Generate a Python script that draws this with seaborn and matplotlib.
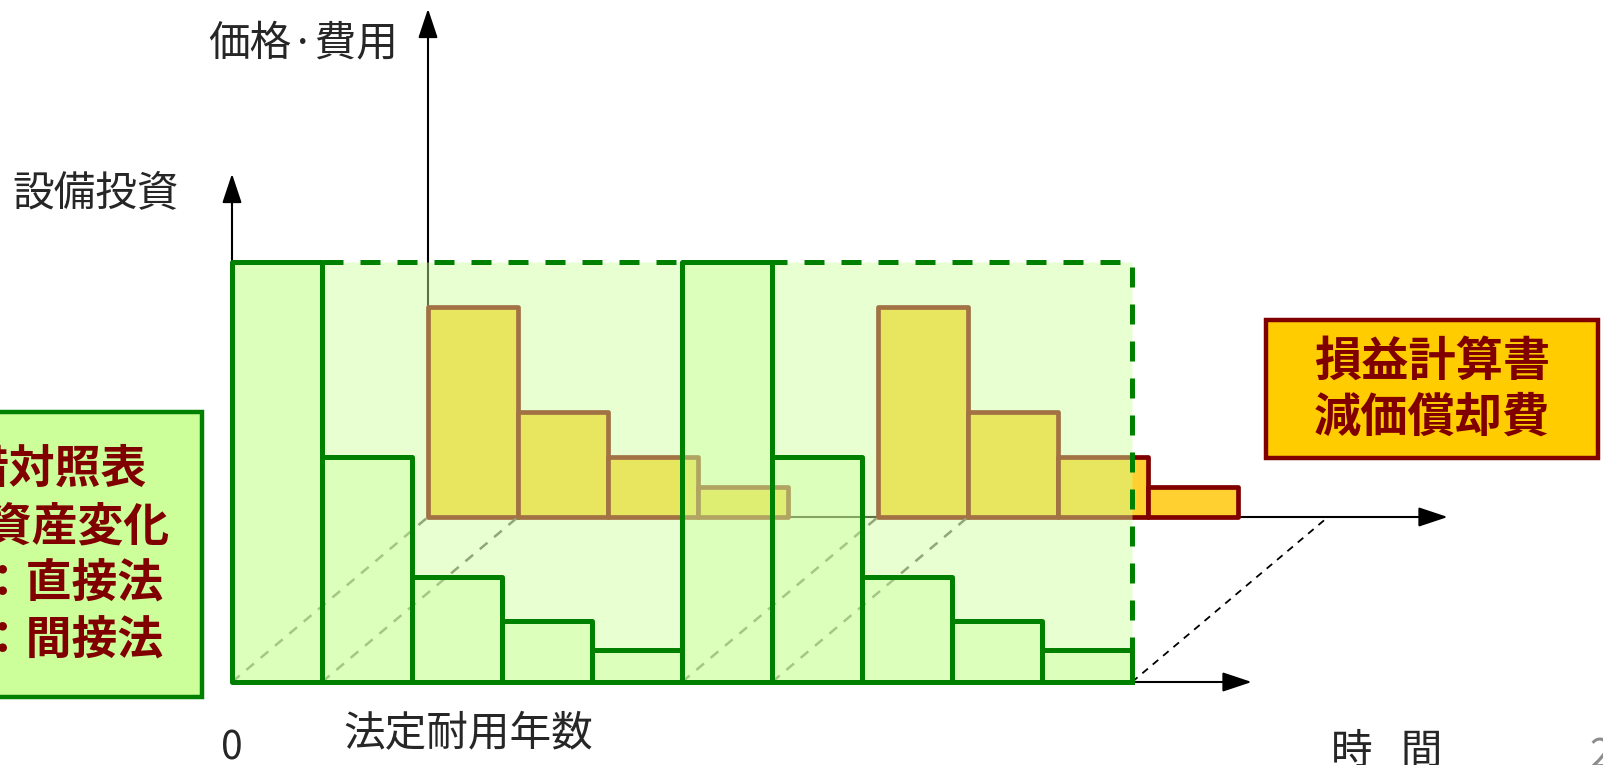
"""
Depreciation sketch: asset value (front plane) vs yearly expense (back plane).
"""
import numpy as np
import pandas as pd
import matplotlib
matplotlib.use("Agg")
import matplotlib.pyplot as plt
import seaborn as sns
from matplotlib.patches import Rectangle

# --- data (% of the investment) ---
front_year = [1, 2, 3, 4, 5, 6, 7, 8, 9, 10]
front_value = [100, 53.6, 25.0, 14.5, 7.6, 100, 53.6, 25.0, 14.5, 7.6]
back_year = [1, 2, 3, 4, 6, 7, 8, 9]
back_value = [50.0, 25.0, 14.3, 7.1, 50.0, 25.0, 14.3, 7.1]
guide_year = [0, 1, 5, 6]   # dashed depth guides

bs_lines = ["貸借対照表", "固定資産変化", "ＣＦ：直接法", "ＣＦ：間接法"]
pl_lines = ["損益計算書", "減価償却費"]

# --- layout (pixels) ---
W, H = 1603, 765
ORIGIN = (232, 682)
PX_YEAR, PX_UNIT = 90.0, 4.2
SHIFT = (196, 165)
AXIS_LEN = (11.33, 121)

GREEN = "#008000"
LIGHT = "#CCFF99"
GOLD = "#FFD030"
DARKRED = "#800000"

sns.set_theme(style="white")
plt.rcParams['font.family'] = ['Noto Sans CJK JP', 'DejaVu Sans']


def fxy(x, y):
    """pixel (from top-left) -> figure fraction"""
    return x / W, 1 - y / H


def arrow(ax, start, tip, lw=1.5, z=2):
    ax.annotate("", xy=tip, xytext=start,
                arrowprops=dict(arrowstyle="-|>,head_length=0.9,head_width=0.3",
                                mutation_scale=20, lw=lw, color="black",
                                shrinkA=0, shrinkB=0),
                zorder=z, annotation_clip=False)


fig = plt.figure(figsize=(W / 100, H / 100), dpi=100)
xlim = (-ORIGIN[0] / PX_YEAR, (W - ORIGIN[0]) / PX_YEAR)
ylim = (-(H - ORIGIN[1]) / PX_UNIT, ORIGIN[1] / PX_UNIT)

ax_back = fig.add_axes([SHIFT[0] / W, SHIFT[1] / H, 1, 1])
ax_front = fig.add_axes([0, 0, 1, 1])
ax_back.set_zorder(0)
ax_front.set_zorder(1)
ax_front.patch.set_alpha(0)
ax_back.patch.set_alpha(0)

# --- back plane: depreciation expense ---
back_df = pd.DataFrame({"mid": np.array(back_year) - 0.5, "value": back_value})
sns.barplot(data=back_df, x="mid", y="value", native_scale=True, width=1,
            errorbar=None, ax=ax_back)
for p in ax_back.patches:
    p.set_facecolor(GOLD)
    p.set_edgecolor(DARKRED)
    p.set_linewidth(3.4)
    p.set_joinstyle("round")
    p.set_zorder(3)
arrow(ax_back, (0, 0), (0, AXIS_LEN[1]))
arrow(ax_back, (0, 0), (AXIS_LEN[0], 0))

# --- front plane: asset value ---
dx = SHIFT[0] / PX_YEAR
dy = SHIFT[1] / PX_UNIT
for k in guide_year:
    ax_front.plot([k, k + dx], [0, dy], color="#606060", lw=1.8,
                  ls=(0, (4, 3.5)), zorder=1)
end = max(front_year)
ax_front.plot([end, end + dx], [0, dy], color="black", lw=1.3,
              ls=(0, (4, 3.5)), zorder=2)

span = Rectangle((0, 0), end, max(front_value), facecolor=(0.8, 1.0, 0.6, 0.45),
                 edgecolor=GREEN, lw=3.6, ls=(0, (4, 3.4)), zorder=2)
ax_front.add_patch(span)

arrow(ax_front, (0, 0), (0, AXIS_LEN[1]), z=2.5)
arrow(ax_front, (0, 0), (AXIS_LEN[0], 0), z=2.5)

front_df = pd.DataFrame({"mid": np.array(front_year) - 0.5, "value": front_value})
n_before = len(ax_front.patches)
sns.barplot(data=front_df, x="mid", y="value", native_scale=True, width=1,
            errorbar=None, ax=ax_front)
for p in ax_front.patches[n_before:]:
    p.set_facecolor((0.8, 1.0, 0.6, 0.36))
    p.set_edgecolor(GREEN)
    p.set_linewidth(3.6)
    p.set_joinstyle("round")
    p.set_zorder(3)

for ax in (ax_front, ax_back):
    ax.set_xlim(*xlim)
    ax.set_ylim(*ylim)
    ax.axis("off")

# --- labels ---
fig.text(*fxy(208, 44), "価格·費用", fontsize=30, ha="left", va="center")
fig.text(*fxy(12, 194), "設備投資", fontsize=30, ha="left", va="center")
fig.text(*fxy(232, 748), "0", fontsize=28, ha="center", va="center")
fig.text(*fxy(468, 735), "法定耐用年数", fontsize=30, ha="center", va="center")
fig.text(*fxy(1387, 752), "時   間", fontsize=30, ha="center", va="center")
fig.text(*fxy(1589, 767), "2", fontsize=28, ha="left", va="baseline", color="#8c8c8c")

# balance-sheet box (cut by the left edge)
x0, y0 = fxy(-120, 697)
x1, y1 = fxy(202, 412)
fig.add_artist(Rectangle((x0, y0), x1 - x0, y1 - y0, transform=fig.transFigure,
                         facecolor=LIGHT, edgecolor=GREEN, lw=3.2, zorder=5))
for txt, xr, yc in zip(bs_lines, [147, 170, 163, 163], [470, 527, 585, 642]):
    fig.text(*fxy(xr, yc), txt, fontsize=33, fontweight="bold", color=DARKRED,
             ha="right", va="center", zorder=6)

# income-statement box
x0, y0 = fxy(1266, 458)
x1, y1 = fxy(1598, 320)
fig.add_artist(Rectangle((x0, y0), x1 - x0, y1 - y0, transform=fig.transFigure,
                         facecolor="#FFCC00", edgecolor=DARKRED, lw=3.2, zorder=5))
for txt, yc in zip(pl_lines, [362, 418]):
    fig.text(*fxy(1432, yc), txt, fontsize=34, fontweight="bold", color=DARKRED,
             ha="center", va="center", zorder=6)

fig.savefig("out.png", dpi=100)
